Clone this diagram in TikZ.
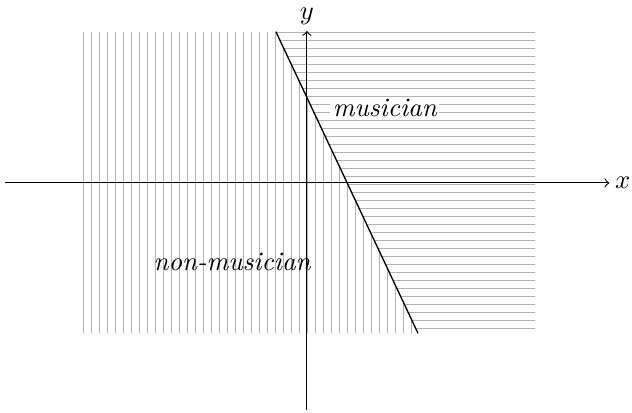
\documentclass[tikz,border=0pt]{standalone}
\begin{document}
\begin{tikzpicture}[
  hatch/.style={gray!60, line width=0.4pt},
  axis/.style={->, line width=0.4pt},
  lbl/.style={font=\itshape, inner sep=1pt}
]
\useasboundingbox (-4.06,-3.03) rectangle (4.30,2.42);
\coordinate (T) at (-0.41,2.0);
\coordinate (B) at (1.47,-1.99);
% vertical hatch (left of line)
\begin{scope}
  \clip (-2.97,-1.99) rectangle (3.02,2.0);
  \clip (-2.97,-1.99) -- (B) -- (T) -- (-2.97,2.0) -- cycle;
  \foreach \k in {0,...,45} {
    \draw[hatch] ({-2.95+\k*0.10583},-2.1) -- ({-2.95+\k*0.10583},2.1);
  }
\end{scope}
% horizontal hatch (right of line)
\begin{scope}
  \clip (T) -- (3.02,2.0) -- (3.02,-1.99) -- (B) -- cycle;
  \foreach \k in {-19,...,19} {
    \draw[hatch] (-1,{\k*0.10583-0.026}) -- (3.1,{\k*0.10583-0.026});
  }
\end{scope}
% axes
\coordinate (xl) at (-4,0);
\coordinate (xr) at (4,0);
\coordinate (yb) at (0,-3);
\coordinate (yt) at (0,2.01);
\draw[axis] (xl) -- (xr) node[right, inner sep=2pt] (xlab) {$x$};
\draw[axis] (yb) -- (yt) node[above, inner sep=2pt] (ylab) {$y$};
% boundary line
\draw[line width=0.5pt] (T) -- (B);
% labels
\node[lbl, fill=white] (mus) at (1.03,0.99) {musician};
\node[lbl] (non) at (-0.99,-1.045) {non-musician};
\end{tikzpicture}
\end{document}
